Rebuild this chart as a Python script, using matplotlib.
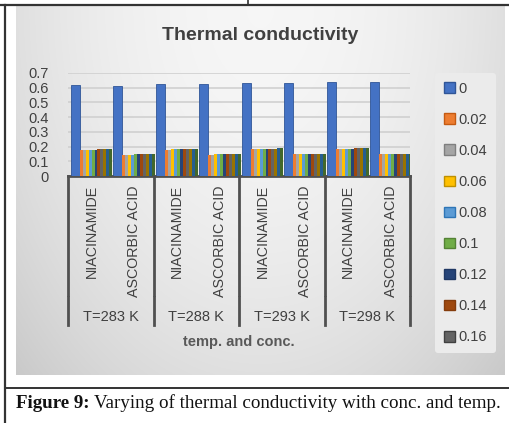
import numpy as np
import matplotlib
matplotlib.use("Agg")
import matplotlib.pyplot as plt
from matplotlib.patches import Patch
from matplotlib.lines import Line2D
from matplotlib.transforms import blended_transform_factory

# ---------------- data ----------------
categories = ["NIACINAMIDE", "ASCORBIC ACID"] * 4
temperatures = ["T=283 K", "T=288 K", "T=293 K", "T=298 K"]
series_labels = ["0", "0.02", "0.04", "0.06", "0.08", "0.1", "0.12", "0.14", "0.16",
                 "0.18", "0.2", "0.22"]
legend_count = 9

conc_0 = [0.617, 0.615, 0.624, 0.622, 0.630, 0.629, 0.636, 0.636]
nia_283 = [0.178, 0.178, 0.178, 0.179, 0.179, 0.180, 0.181, 0.181, 0.182, 0.182, 0.183]
asc_283 = [0.145, 0.145, 0.146, 0.146, 0.147, 0.147, 0.148, 0.148, 0.149, 0.149, 0.150]
nia_288 = [0.180, 0.180, 0.181, 0.181, 0.182, 0.183, 0.184, 0.184, 0.185, 0.185, 0.186]
asc_288 = [0.146, 0.146, 0.147, 0.147, 0.148, 0.148, 0.149, 0.149, 0.150, 0.150, 0.151]
nia_293 = [0.181, 0.181, 0.182, 0.183, 0.183, 0.184, 0.185, 0.186, 0.186, 0.187, 0.188]
asc_293 = [0.147, 0.147, 0.148, 0.148, 0.149, 0.149, 0.150, 0.150, 0.151, 0.151, 0.152]
nia_298 = [0.183, 0.183, 0.184, 0.185, 0.185, 0.186, 0.187, 0.188, 0.188, 0.189, 0.190]
asc_298 = [0.148, 0.148, 0.149, 0.149, 0.150, 0.150, 0.150, 0.151, 0.151, 0.152, 0.152]
small_rows = [nia_283, asc_283, nia_288, asc_288, nia_293, asc_293, nia_298, asc_298]

yticks = [0, 0.1, 0.2, 0.3, 0.4, 0.5, 0.6, 0.7]
ytick_labels = ["0", "0.1", "0.2", "0.3", "0.4", "0.5", "0.6", "0.7"]

colors = ["#4472C4", "#ED7D31", "#A5A5A5", "#FFC000", "#5B9BD5", "#70AD47",
          "#264478", "#9E480E", "#636363", "#997300", "#255E91", "#43682B"]
edge_colors = ["#2F5597", "#C55A11", "#7F7F7F", "#BF9000", "#2E75B6", "#548235",
               "#1F3864", "#843C0C", "#404040", "#7F6000", "#1F4E79", "#385723"]

# ---------------- figure ----------------
W, H = 509, 423
fig = plt.figure(figsize=(W / 100, H / 100), dpi=100)
fig.patch.set_facecolor("white")
FONT = ["Liberation Sans", "DejaVu Sans"]
TXT = "#404040"

def fx(px):
    return px / W

def fy(py):
    return 1 - py / H

# chart-area gradient background
bg = fig.add_axes([fx(16), fy(375), fx(505) - fx(16), fy(6) - fy(375)], zorder=-5)
gx = np.linspace(-1, 1, 300)
gy = np.linspace(0, 1, 250)
XX, YY = np.meshgrid(gx, gy)
r2 = (XX ** 2 + YY ** 2) / 2.0
val = 0.965 - 0.175 * r2
img = np.dstack([val, val, val])
bg.imshow(img, aspect="auto", extent=[0, 1, 1, 0], interpolation="bilinear")
bg.set_xlim(0, 1)
bg.set_ylim(1, 0)
bg.axis("off")

# main axes
left, right = 68, 410
ax = fig.add_axes([fx(left), fy(176), fx(right) - fx(left), fy(73) - fy(176)])
ax.set_facecolor("none")
n_cat = len(categories)
ax.set_xlim(-0.5, n_cat - 0.5)
ax.set_ylim(0, 0.7)

w0 = 0.21
ws = 0.07
start = -0.44
xs = np.arange(n_cat)
ax.bar(xs + start + w0 / 2, conc_0, width=w0, color=colors[0],
       edgecolor=edge_colors[0], linewidth=0.6, zorder=3)
small = np.array(small_rows)
for k in range(small.shape[1]):
    ax.bar(xs + start + w0 + ws * k + ws / 2, small[:, k], width=ws,
           color=colors[k + 1], edgecolor="none", zorder=3)

ax.set_yticks(yticks)
ax.set_yticklabels(ytick_labels, fontsize=10.5, color=TXT, family=FONT)
ax.tick_params(axis="y", length=0, pad=14)
ax.set_xticks([])
ax.grid(axis="y", color="#d0d0d0", linewidth=1.2, zorder=0)
for s in ["top", "right", "left"]:
    ax.spines[s].set_visible(False)
ax.spines["bottom"].set_color("#505050")
ax.spines["bottom"].set_linewidth(2)

# category labels and dividers
tr = blended_transform_factory(ax.transData, fig.transFigure)
for i, c in enumerate(categories):
    ax.text(i + 0.05, fy(185), c, rotation=90, ha="center", va="top",
            fontsize=10.3, color=TXT, family=FONT, transform=tr)
for b in [-0.5, 1.5, 3.5, 5.5, 7.5]:
    for (y0, y1) in [(176, 295), (297, 325)]:
        ln = Line2D([b, b], [fy(y0), fy(y1)], transform=tr, color="#505050",
                    linewidth=2, clip_on=False)
        fig.add_artist(ln)
for j, t in enumerate(temperatures):
    ax.text(2 * j + 0.5, fy(317), t, ha="center", va="center", fontsize=10.5,
            color=TXT, family=FONT, transform=tr)

fig.text(fx(239), fy(342), "temp. and conc.", ha="center", va="center",
         fontsize=10.5, fontweight="bold", color="#595959", family=FONT)
fig.text(fx(260), fy(35), "Thermal conductivity", ha="center", va="center",
         fontsize=14, fontweight="bold", color=TXT, family=FONT)

# legend
handles = [Patch(facecolor=colors[k], edgecolor=edge_colors[k], linewidth=1)
           for k in range(legend_count)]
leg = fig.legend(handles, series_labels[:legend_count], loc="upper left",
                 bbox_to_anchor=(fx(435), fy(73)), frameon=True,
                 prop={"family": FONT, "size": 10.5}, labelspacing=1.17,
                 handlelength=0.75, handleheight=0.75, handletextpad=0.25,
                 borderpad=0.6, borderaxespad=0)
leg.get_frame().set_facecolor("#ebebeb")
leg.get_frame().set_edgecolor("none")
leg.get_frame().set_alpha(1)
for t in leg.get_texts():
    t.set_color(TXT)

# page frame lines
fig.add_artist(Line2D([0, 1], [fy(5), fy(5)], transform=fig.transFigure,
                      color="#333333", linewidth=1.6))
fig.add_artist(Line2D([fx(248), fx(248)], [1, fy(5)], transform=fig.transFigure,
                      color="#333333", linewidth=1.2))
fig.add_artist(Line2D([fx(5), fx(5)], [fy(5), 0], transform=fig.transFigure,
                      color="#333333", linewidth=1.6))
fig.add_artist(Line2D([fx(5), 1], [fy(388), fy(388)], transform=fig.transFigure,
                      color="#333333", linewidth=1.4))

# caption
SERIF = ["Liberation Serif", "DejaVu Serif"]
t1 = fig.text(fx(16), fy(403), "Figure 9:", ha="left", va="center",
              fontsize=13.7, fontweight="bold", color="#111111", family=SERIF)
fig.canvas.draw()
bb = t1.get_window_extent()
fig.text(bb.x1 / W + fx(4), fy(403), "Varying of thermal conductivity with conc. and temp.",
         ha="left", va="center", fontsize=13.7, color="#111111", family=SERIF)

fig.savefig("out.png", dpi=100)
